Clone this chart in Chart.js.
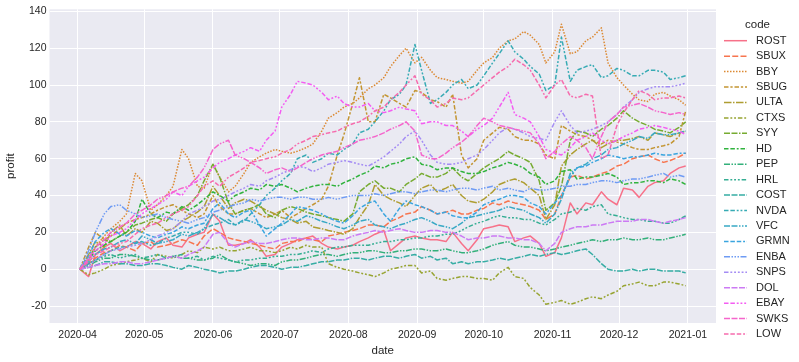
<!DOCTYPE html>
<html>
<head>
<meta charset="utf-8">
<script src="https://cdn.jsdelivr.net/npm/chart.js@4.4.0/dist/chart.umd.min.js"></script>
<style>
  html, body { margin: 0; padding: 0; background: #fff; }
</style>
</head>
<body>
<canvas id="chart" width="799" height="362"></canvas>
<script>
// profit curves sampled twice a week (Thu / Mon)
const dates = [
  "2020-04-02", "2020-04-06", "2020-04-09", "2020-04-13", "2020-04-16", "2020-04-20", "2020-04-23", "2020-04-27",
  "2020-04-30", "2020-05-04", "2020-05-07", "2020-05-11", "2020-05-14", "2020-05-18", "2020-05-21", "2020-05-25",
  "2020-05-28", "2020-06-01", "2020-06-04", "2020-06-08", "2020-06-11", "2020-06-15", "2020-06-18", "2020-06-22",
  "2020-06-25", "2020-06-29", "2020-07-02", "2020-07-06", "2020-07-09", "2020-07-13", "2020-07-16", "2020-07-20",
  "2020-07-23", "2020-07-27", "2020-07-30", "2020-08-03", "2020-08-06", "2020-08-10", "2020-08-13", "2020-08-17",
  "2020-08-20", "2020-08-24", "2020-08-27", "2020-08-31", "2020-09-03", "2020-09-07", "2020-09-10", "2020-09-14",
  "2020-09-17", "2020-09-21", "2020-09-24", "2020-09-28", "2020-10-01", "2020-10-05", "2020-10-08", "2020-10-12",
  "2020-10-15", "2020-10-19", "2020-10-22", "2020-10-26", "2020-10-29", "2020-11-02", "2020-11-05", "2020-11-09",
  "2020-11-12", "2020-11-16", "2020-11-19", "2020-11-23", "2020-11-26", "2020-11-30", "2020-12-03", "2020-12-07",
  "2020-12-10", "2020-12-14", "2020-12-17", "2020-12-21", "2020-12-24", "2020-12-28", "2020-12-31"
];

const codes = ["ROST", "SBUX", "BBY", "SBUG", "ULTA", "CTXS", "SYY", "HD", "PEP", "HRL",
               "COST", "NVDA", "VFC", "GRMN", "ENBA", "SNPS", "DOL", "EBAY", "SWKS", "LOW"];

const ROST = [0, -4, 8, 12, 14, 10, 12, 15, 14, 11, 15, 17, 13, 12, 17, 19, 20, 30, 26, 13, 13, 14, 16, 12, 7, 8, 12, 14, 16, 17, 18, 14, 12, 11, 12, 13, 15, 17, 19, 21, 10, 14, 17, 18, 17, 16, 16, 15, 20, 14, 10, 16, 22, 23, 24, 23, 15, 17, 18, 14, 7, 9, 17, 36, 30, 36, 35, 42, 38, 35, 44, 43, 39, 45, 47, 48, 52, 55, 56];
const SBUX = [0, 3, 6, 9, 10, 13, 12, 10, 14, 15, 12, 13, 14, 16, 15, 13, 18, 22, 20, 17, 16, 15, 14, 13, 12, 11, 14, 15, 15, 17, 16, 15, 18, 19, 20, 21, 22, 24, 24, 23, 26, 28, 30, 31, 34, 32, 30, 31, 32, 30, 30, 32, 33, 36, 35, 37, 36, 35, 34, 32, 27, 30, 40, 50, 51, 49, 50, 52, 53, 56, 57, 60, 61, 62, 60, 58, 59, 61, 63];
const BBY = [0, 5, 12, 18, 22, 26, 30, 52, 48, 32, 35, 40, 45, 65, 60, 45, 44, 57, 50, 42, 45, 52, 58, 61, 63, 65, 64, 63, 64, 66, 68, 75, 82, 85, 88, 90, 93, 98, 100, 104, 110, 116, 120, 112, 115, 108, 104, 103, 102, 101, 102, 108, 112, 115, 120, 124, 125, 129, 127, 122, 112, 118, 133, 117, 118, 124, 126, 131, 112, 104, 100, 95, 92, 91, 95, 96, 94, 92, 89];
const SBUG = [0, 12, 20, 16, 18, 22, 25, 27, 28, 30, 32, 34, 35, 32, 30, 28, 30, 40, 34, 30, 30, 32, 33, 30, 28, 30, 32, 28, 30, 33, 35, 38, 45, 62, 73, 90, 104, 80, 80, 95, 93, 90, 88, 97, 96, 92, 91, 88, 95, 62, 55, 60, 70, 74, 77, 76, 72, 70, 70, 68, 62, 60, 78, 75, 73, 72, 70, 68, 70, 69, 68, 66, 65, 65, 66, 67, 68, 72, 86];
const ULTA = [0, 8, 15, 12, 20, 24, 18, 22, 20, 26, 25, 21, 22, 26, 28, 31, 34, 45, 40, 33, 36, 38, 37, 34, 32, 30, 28, 27, 25, 26, 23, 22, 21, 20, 19, 22, 28, 35, 46, 40, 38, 36, 34, 40, 44, 46, 42, 44, 46, 40, 37, 36, 38, 42, 46, 48, 49, 47, 44, 40, 27, 35, 56, 62, 65, 68, 70, 66, 68, 70, 70, 71, 72, 70, 74, 73, 72, 74, 75];
const CTXS = [0, -3, -2, 0, 2, 3, 4, 5, 6, 4, 8, 7, 6, 8, 10, 9, 12, 11, 12, 10, 10, 11, 12, 10, 10, 9, 10, 12, 11, 13, 12, 12, 3, 1, 0, -1, -2, -3, -4, -2, 0, 1, 2, 2, -2, -1, -5, -6, -5, -4, -4, -5, -5, -6, -2, 1, -4, -5, -10, -14, -19, -18, -17, -19, -18, -16, -15, -16, -14, -12, -9, -8, -7, -9, -9, -7, -7, -8, -9];
const SYY = [0, 6, 12, 16, 15, 18, 20, 24, 25, 27, 28, 26, 30, 33, 35, 40, 48, 57, 50, 36, 30, 32, 33, 35, 30, 28, 32, 34, 33, 31, 30, 29, 28, 27, 26, 30, 42, 46, 48, 44, 44, 42, 46, 49, 52, 50, 50, 52, 55, 50, 48, 52, 55, 58, 60, 64, 62, 60, 58, 48, 32, 36, 45, 70, 75, 74, 72, 76, 78, 82, 86, 82, 80, 78, 76, 75, 74, 77, 80];
const HD = [0, 5, 10, 13, 15, 18, 20, 26, 38, 30, 28, 31, 30, 34, 32, 35, 38, 42, 40, 37, 40, 42, 44, 43, 46, 45, 46, 44, 42, 44, 45, 46, 46, 45, 47, 49, 51, 53, 56, 55, 57, 58, 60, 61, 57, 56, 54, 55, 55, 53, 52, 52, 53, 55, 56, 58, 57, 55, 52, 50, 46, 48, 53, 54, 49, 50, 50, 51, 52, 50, 46, 47, 47, 48, 48, 47, 49, 48, 46];
const PEP = [0, 2, 4, 6, 6, 8, 8, 7, 6, 5, 5, 6, 7, 6, 6, 5, 5, 6, 8, 5, 4, 3, 2, 3, 3, 2, 4, 5, 5, 6, 7, 8, 8, 7, 8, 9, 9, 10, 10, 9, 9, 10, 10, 11, 11, 10, 10, 11, 10, 9, 9, 10, 11, 13, 14, 15, 13, 12, 12, 11, 10, 11, 12, 13, 14, 15, 16, 15, 16, 16, 17, 16, 16, 17, 16, 16, 17, 18, 19];
const HRL = [0, 3, 5, 7, 8, 6, 7, 8, 6, 7, 8, 6, 7, 8, 6, 7, 5, 7, 6, 5, 4, 5, 5, 6, 6, 7, 7, 8, 8, 9, 10, 9, 11, 12, 12, 13, 13, 13, 14, 15, 15, 16, 16, 17, 17, 18, 18, 19, 19, 21, 23, 25, 26, 28, 29, 28, 28, 27, 27, 25, 24, 27, 30, 31, 33, 32, 34, 35, 30, 29, 28, 27, 27, 26, 26, 25, 25, 27, 29];
const COST = [0, 1, 2, 4, 4, 3, 3, 2, 2, 3, 3, 2, 1, 0, 2, 1, 0, -1, -2, -1, -1, 0, 1, 2, 2, 1, 0, 1, 1, 2, 3, 4, 4, 5, 5, 6, 6, 5, 6, 7, 7, 6, 7, 8, 6, 7, 5, 6, 3, 4, 3, 4, 4, 5, 6, 5, 6, 7, 8, 7, 8, 9, 8, 9, 10, 11, 8, 3, 0, -1, -1, 0, -1, 0, 0, -1, -1, -1, -2];
const NVDA = [0, 3, 5, 8, 10, 12, 12, 14, 15, 13, 14, 17, 18, 20, 20, 19, 22, 24, 25, 27, 24, 26, 30, 35, 40, 44, 48, 52, 60, 62, 58, 60, 63, 62, 65, 68, 74, 76, 80, 86, 92, 95, 100, 122, 108, 90, 92, 96, 100, 103, 98, 100, 105, 112, 117, 124, 118, 114, 110, 106, 97, 100, 126, 102, 108, 110, 111, 104, 105, 109, 108, 105, 105, 108, 108, 107, 103, 104, 105];
const VFC = [0, 4, 8, 11, 12, 15, 16, 14, 18, 16, 14, 15, 16, 19, 18, 20, 22, 30, 28, 25, 24, 27, 26, 24, 22, 23, 24, 27, 26, 29, 28, 26, 25, 23, 22, 24, 26, 27, 24, 23, 22, 24, 25, 27, 28, 26, 24, 23, 22, 25, 28, 29, 30, 31, 32, 34, 33, 32, 30, 28, 25, 30, 38, 52, 55, 57, 60, 62, 65, 66, 68, 70, 72, 71, 74, 73, 73, 74, 75];
const GRMN = [0, 7, 15, 20, 22, 19, 18, 21, 20, 18, 17, 19, 20, 23, 22, 24, 25, 33, 36, 30, 28, 31, 32, 24, 18, 22, 25, 30, 34, 33, 32, 30, 28, 26, 25, 29, 33, 36, 37, 30, 26, 33, 37, 35, 34, 32, 30, 31, 29, 28, 28, 31, 35, 37, 38, 40, 40, 39, 36, 34, 30, 36, 40, 50, 55, 56, 58, 60, 62, 61, 60, 61, 61, 62, 63, 62, 62, 63, 63];
const ENBA = [0, 10, 20, 30, 34, 35, 32, 30, 28, 29, 30, 28, 27, 26, 25, 27, 28, 31, 32, 34, 35, 36, 38, 37, 38, 39, 39, 38, 39, 39, 38, 38, 39, 38, 39, 40, 40, 40, 41, 40, 41, 42, 42, 41, 42, 43, 43, 42, 43, 44, 44, 43, 44, 45, 43, 44, 43, 42, 44, 43, 43, 44, 45, 45, 46, 46, 47, 48, 48, 47, 48, 49, 49, 50, 51, 52, 50, 51, 50];
const SNPS = [0, 2, 5, 8, 10, 11, 12, 13, 14, 16, 18, 20, 22, 26, 30, 32, 34, 37, 38, 40, 42, 44, 46, 45, 48, 50, 52, 54, 56, 55, 53, 55, 57, 58, 59, 58, 57, 56, 58, 61, 64, 68, 72, 75, 70, 62, 58, 57, 57, 58, 60, 62, 65, 70, 74, 77, 76, 74, 72, 71, 70, 80, 86, 78, 74, 75, 76, 78, 80, 84, 88, 92, 96, 98, 99, 99, 99, 100, 101];
const DOL = [0, 1, 2, 3, 3, 4, 4, 3, 3, 4, 5, 6, 7, 6, 8, 10, 12, 19, 20, 14, 12, 14, 15, 14, 14, 15, 16, 17, 17, 16, 16, 17, 17, 16, 16, 18, 19, 20, 21, 20, 21, 22, 21, 20, 20, 21, 21, 20, 20, 18, 16, 17, 17, 18, 18, 17, 17, 16, 16, 14, 10, 14, 20, 22, 23, 23, 24, 24, 25, 26, 26, 26, 27, 27, 26, 25, 26, 27, 28];
const EBAY = [0, 5, 10, 14, 18, 20, 22, 27, 30, 33, 35, 38, 42, 40, 45, 48, 50, 55, 58, 60, 62, 64, 66, 64, 70, 75, 88, 95, 102, 101, 100, 96, 92, 94, 90, 88, 88, 90, 86, 85, 86, 88, 87, 86, 79, 80, 80, 78, 78, 75, 72, 76, 78, 82, 88, 96, 84, 82, 80, 72, 65, 63, 62, 66, 70, 72, 74, 70, 68, 70, 72, 74, 76, 77, 78, 77, 76, 75, 73];
const SWKS = [0, 6, 12, 16, 20, 23, 25, 30, 32, 35, 38, 40, 42, 44, 45, 50, 55, 65, 68, 70, 62, 60, 58, 55, 52, 54, 55, 53, 55, 58, 60, 62, 63, 64, 66, 68, 70, 71, 72, 74, 76, 78, 80, 75, 62, 60, 60, 63, 66, 69, 72, 78, 82, 80, 78, 77, 76, 75, 74, 68, 60, 64, 68, 72, 70, 66, 60, 72, 80, 84, 88, 89, 90, 88, 86, 85, 84, 85, 84];
const LOW = [0, 4, 8, 10, 12, 14, 15, 19, 22, 24, 25, 28, 30, 32, 34, 40, 45, 48, 45, 50, 52, 55, 58, 59, 60, 61, 63, 65, 68, 70, 72, 73, 74, 75, 77, 79, 80, 83, 86, 88, 92, 96, 100, 105, 95, 92, 88, 90, 93, 92, 93, 97, 100, 104, 107, 110, 114, 111, 108, 100, 93, 100, 103, 94, 93, 95, 94, 60, 62, 78, 85, 92, 97, 95, 92, 93, 93, 94, 93];

const series = [ROST, SBUX, BBY, SBUG, ULTA, CTXS, SYY, HD, PEP, HRL,
                COST, NVDA, VFC, GRMN, ENBA, SNPS, DOL, EBAY, SWKS, LOW];

const monthTicks = ["2020-04-01", "2020-05-01", "2020-06-01", "2020-07-01", "2020-08-01",
                    "2020-09-01", "2020-10-01", "2020-11-01", "2020-12-01", "2021-01-01"];
const yTicks = [-20, 0, 20, 40, 60, 80, 100, 120, 140];

// seaborn style dash patterns (in units of the line width)
const dashes = [
  [], [4, 1.5], [1, 1], [3, 1.25, 1.5, 1.25], [5, 1, 1, 1],
  [3, 1.25, 1.25, 1.25, 1.25, 1.25], [4, 1, 4, 1, 1, 1], [3, 1.25, 3, 1.25, 1.25, 1.25],
  [4, 1, 1, 1, 1, 1], [3, 1.25, 1.25, 1.25, 1.25, 1.25, 1.25, 1.25],
  [4, 1, 4, 1, 4, 1, 1, 1], [3, 1.25, 3, 1.25, 1.25, 1.25, 1.25, 1.25],
  [4, 1, 4, 1, 1, 1, 1, 1], [3, 1.25, 3, 1.25, 3, 1.25, 1.25, 1.25],
  [4, 1, 1, 1, 1, 1, 1, 1], [3, 1.25, 1.25, 1.25, 1.25, 1.25, 1.25, 1.25, 1.25, 1.25],
  [4, 1, 4, 1, 4, 1, 4, 1, 1, 1], [3, 1.25, 3, 1.25, 1.25, 1.25, 1.25, 1.25, 1.25, 1.25],
  [4, 1, 4, 1, 4, 1, 1, 1, 1, 1], [3, 1.25, 3, 1.25, 3, 1.25, 1.25, 1.25, 1.25, 1.25]
];

const LW = 1.5;
const FONT = "'Liberation Sans', Arial, sans-serif";
const TEXT = "#262626";

// day number counted from 2020-01-01
function dayNum(s) {
  return (Date.parse(s + "T00:00:00Z") - Date.parse("2020-01-01T00:00:00Z")) / 86400000;
}

// husl -> rgb, same maths as seaborn's husl palette
function huslToRgb(h, s, l) {
  const M = [[3.2406, -1.5372, -0.4986], [-0.9689, 1.8758, 0.0415], [0.0557, -0.2040, 1.0570]];
  const hrad = h / 360 * 2 * Math.PI;
  const sinH = Math.sin(hrad), cosH = Math.cos(hrad);
  const sub1 = Math.pow(l + 16, 3) / 1560896;
  const sub2 = sub1 > 0.008856 ? sub1 : l / 903.3;
  let mx = Infinity;
  for (const [m1, m2, m3] of M) {
    const top = (0.99915 * m1 + 1.05122 * m2 + 1.14460 * m3) * sub2;
    const rb = 0.86330 * m3 - 0.17266 * m2;
    const lb = 0.12949 * m3 - 0.38848 * m1;
    const bottom = (rb * sinH + lb * cosH) * sub2;
    for (const t of [0, 1]) {
      const C = l * (top - 1.05122 * t) / (bottom + 0.17266 * sinH * t);
      if (C > 0 && C < mx) mx = C;
    }
  }
  const c = mx / 100 * s;
  const U = Math.cos(hrad) * c, V = Math.sin(hrad) * c;
  const fInv = t => Math.pow(t, 3) > 0.008856 ? Math.pow(t, 3) : (116 * t - 16) / 903.3;
  const Y = fInv((l + 16) / 116);
  const vu = U / (13 * l) + 0.19784;
  const vv = V / (13 * l) + 0.46834;
  const X = -(9 * Y * vu) / ((vu - 4) * vv - vu * vv);
  const Z = (9 * Y - 15 * vv * Y - vv * X) / (3 * vv);
  const rgb = M.map(r => {
    let v = r[0] * X + r[1] * Y + r[2] * Z;
    v = v <= 0.0031308 ? 12.92 * v : 1.055 * Math.pow(v, 1 / 2.4) - 0.055;
    return Math.round(Math.min(1, Math.max(0, v)) * 255);
  });
  return "rgb(" + rgb.join(",") + ")";
}

const colors = codes.map((_, i) => huslToRgb((((i / codes.length) + 0.01) % 1) * 359, 0.9 * 99, 0.65 * 99));

const xs = dates.map(dayNum);
const tickDays = monthTicks.map(dayNum);
const span = xs[xs.length - 1] - xs[0];
const xMin = xs[0] - span * 0.05;
const xMax = xs[xs.length - 1] + span * 0.05;

const datasets = codes.map((code, i) => ({
  label: code,
  data: series[i].map((v, j) => ({ x: xs[j], y: v })),
  borderColor: colors[i],
  backgroundColor: colors[i],
  borderWidth: LW,
  borderDash: dashes[i].map(d => d * LW),
  borderJoinStyle: "round",
  pointRadius: 0,
  tension: 0,
  fill: false,
  order: codes.length - 1 - i
}));

const plotBg = {
  id: "plotBg",
  beforeDraw(chart) {
    const { ctx, chartArea: a } = chart;
    ctx.save();
    ctx.fillStyle = "#ffffff";
    ctx.fillRect(0, 0, chart.width, chart.height);
    ctx.fillStyle = "#EAEAF2";
    ctx.fillRect(a.left, a.top, a.right - a.left, a.bottom - a.top);
    ctx.restore();
  }
};

// legend drawn like the seaborn one: title "code" then one row per series
const sideLegend = {
  id: "sideLegend",
  afterDraw(chart) {
    const ctx = chart.ctx;
    ctx.save();
    ctx.fillStyle = TEXT;
    ctx.textBaseline = "middle";
    ctx.font = "11.5px " + FONT;
    ctx.textAlign = "center";
    ctx.fillText("code", 757.5, 25);
    ctx.font = "11px " + FONT;
    ctx.textAlign = "left";
    chart.data.datasets.forEach((ds, i) => {
      const y = 40.7 + i * 15.44;
      ctx.strokeStyle = ds.borderColor;
      ctx.lineWidth = LW;
      ctx.setLineDash(ds.borderDash);
      ctx.beginPath();
      ctx.moveTo(724, y);
      ctx.lineTo(747, y);
      ctx.stroke();
      ctx.setLineDash([]);
      ctx.fillText(ds.label, 756, y);
    });
    ctx.restore();
  }
};

new Chart(document.getElementById("chart"), {
  type: "line",
  data: { datasets },
  plugins: [plotBg, sideLegend],
  options: {
    responsive: false,
    animation: false,
    devicePixelRatio: 1,
    layout: { padding: { left: 0, right: 83, top: 8, bottom: 0 } },
    plugins: { legend: { display: false }, tooltip: { enabled: false } },
    scales: {
      x: {
        type: "linear",
        min: xMin,
        max: xMax,
        afterBuildTicks: s => { s.ticks = tickDays.map(v => ({ value: v })); },
        afterFit: s => { s.height = 39; },
        grid: { color: "#ffffff", lineWidth: 1, drawTicks: false },
        border: { display: false },
        ticks: {
          padding: 6, color: TEXT, maxRotation: 0, autoSkip: false,
          font: { family: FONT, size: 10.5 },
          callback: (v, i) => monthTicks[i].slice(0, 7)
        },
        title: { display: true, text: "date", color: TEXT, font: { family: FONT, size: 11.5 }, padding: { top: 0, bottom: 4 } }
      },
      y: {
        min: -29.2,
        max: 141.1,
        afterBuildTicks: s => { s.ticks = yTicks.map(v => ({ value: v })); },
        afterFit: s => { s.width = 49.5; },
        grid: { color: "#ffffff", lineWidth: 1, drawTicks: false },
        border: { display: false },
        ticks: { padding: 3, color: TEXT, font: { family: FONT, size: 10.5 } },
        title: { display: true, text: "profit", color: TEXT, font: { family: FONT, size: 11.5 }, padding: { top: 4, bottom: 0 } }
      }
    }
  }
});
</script>
</body>
</html>
